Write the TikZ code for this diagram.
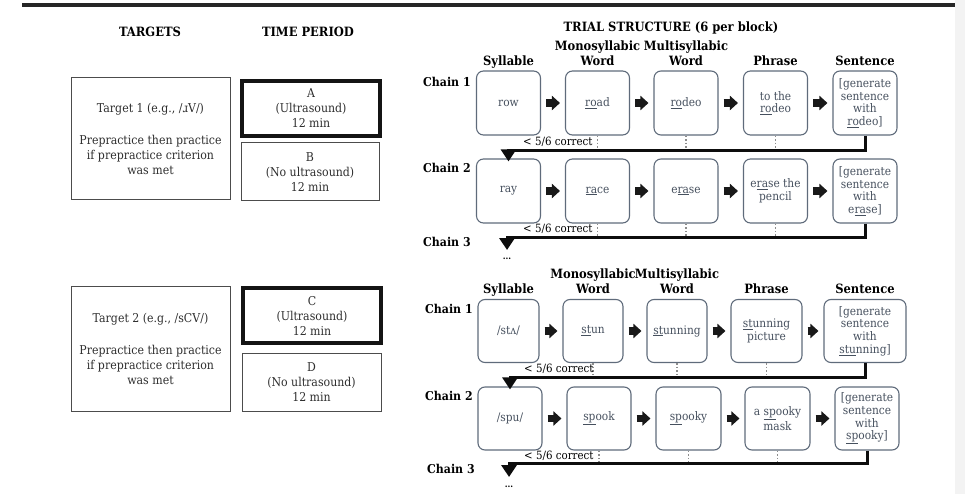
\documentclass[tikz,border=0pt]{standalone}
\usepackage{fontspec}
\setmainfont{DejaVu Serif}[FakeStretch=0.9]
\usetikzlibrary{positioning,calc,arrows.meta}

\definecolor{boxline}{HTML}{5F6B7B}
\definecolor{boxtext}{HTML}{46505E}
\definecolor{inktext}{HTML}{2E2E2E}
\definecolor{sidebg}{HTML}{F3F3F3}
\newcommand{\ulpart}[1]{\underline{#1}}

\tikzset{
  chainbox/.style={draw=boxline, line width=1.1pt, rounded corners=7pt,
    text=boxtext, align=center, minimum width=64pt, minimum height=64pt,
    inner sep=1pt, font=\fontsize{11.8}{12.7}\selectfont},
  targetbox/.style={draw=black!70, line width=1pt, text=inktext, align=center,
    inner sep=2pt, font=\fontsize{12.2}{15}\selectfont},
  thickbox/.style={targetbox, draw=black!92, line width=4.5pt},
  hdr/.style={font=\fontsize{12.8}{15}\selectfont\bfseries, align=center,
    inner sep=0pt, text depth=0pt},
  chainlbl/.style={font=\fontsize{12.2}{15}\selectfont\bfseries, anchor=west, inner sep=0pt},
  fbnote/.style={font=\fontsize{11.4}{15}\selectfont, anchor=base west, inner sep=0pt},
  dotsnote/.style={font=\fontsize{9}{9}\selectfont\bfseries, inner sep=0pt},
  steparrow/.style={draw=black!90, line width=7.5pt,
    -{Triangle[length=8pt,width=14pt]}, shorten <=5pt, shorten >=5pt},
  fbline/.style={draw=black!95, line width=3pt,
    -{Triangle[length=12pt,width=15pt]}, shorten >=-3pt},
  dotlink/.style={draw=black!45, line width=1.4pt, dash pattern=on 1.6pt off 2pt},
}

\begin{document}
\begin{tikzpicture}[x=1pt, y=-1pt]
  \useasboundingbox (0,0) rectangle (965,494);
  \fill[sidebg] (955,0) rectangle (965,494);
  \draw[line width=4pt, draw=black!85] (22,5) -- (955,5);

  % column titles
  \node[hdr] (tgthead) at (150,32) {TARGETS};
  \node[hdr] (perhead) at (308,32) {TIME PERIOD};
  \node[hdr] (trialhead) at (671,27) {TRIAL STRUCTURE (6 per block)};

  % targets and time periods
  \node[targetbox, minimum width=159pt, minimum height=122pt] (t1) at (150.5,139)
    {Target 1 (e.g., /ɹV/)\\[17pt]Prepractice then practice\\if prepractice criterion\\was met};
  \node[thickbox, minimum width=138pt, minimum height=55pt] (pa) at (311,108.5)
    {A\\(Ultrasound)\\12 min};
  \node[targetbox, minimum width=138pt, minimum height=58pt] (pb) at (310,172)
    {B\\(No ultrasound)\\12 min};

  \node[targetbox, minimum width=159pt, minimum height=125pt] (t2) at (150.5,348.5)
    {Target 2 (e.g., /sCV/)\\[17pt]Prepractice then practice\\if prepractice criterion\\was met};
  \node[thickbox, minimum width=138pt, minimum height=55pt] (pc) at (312,315.5)
    {C\\(Ultrasound)\\12 min};
  \node[targetbox, minimum width=139pt, minimum height=58pt] (pd) at (311.5,382)
    {D\\(No ultrasound)\\12 min};

  % block 1, chain 1
  \node[chainbox] (c1s) at (508.5,103) {row};
  \node[chainbox] (c1m) at (597.5,103) {\ulpart{ro}ad};
  \node[chainbox] (c1p) at (686,103) {\ulpart{ro}deo};
  \node[chainbox] (c1ph) at (775.5,103) {to the\\\ulpart{ro}deo};
  \node[chainbox] (c1se) at (865,103) {[generate\\sentence\\with\\\ulpart{ro}deo]};

  \node[hdr, above=5pt of c1s] (h1s) {Syllable};
  \node[hdr, above=5pt of c1m] (h1m) {Monosyllabic\\Word};
  \node[hdr, above=5pt of c1p] (h1p) {Multisyllabic\\Word};
  \node[hdr, above=5pt of c1ph] (h1ph) {Phrase};
  \node[hdr, above=5pt of c1se] (h1se) {Sentence};

  % block 1, chain 2
  \node[chainbox] (c2s) at (508.5,191) {ray};
  \node[chainbox] (c2m) at (597.5,191) {\ulpart{ra}ce};
  \node[chainbox] (c2p) at (686,191) {e\ulpart{ra}se};
  \node[chainbox] (c2ph) at (775.5,191) {e\ulpart{ra}se the\\pencil};
  \node[chainbox] (c2se) at (865,191) {[generate\\sentence\\with\\e\ulpart{ra}se]};

  \node[chainlbl] (c1lab) at (423,82) {Chain 1};
  \node[chainlbl] (c2lab) at (423,168) {Chain 2};
  \node[chainlbl] (c3lab) at (423,242) {Chain 3};

  % block 2, chain 1
  \node[chainbox, minimum width=61pt, minimum height=63pt] (d1s) at (508.5,331) {/stʌ/};
  \node[chainbox, minimum width=60pt, minimum height=63pt] (d1m) at (593,331) {\ulpart{st}un};
  \node[chainbox, minimum width=60pt, minimum height=63pt] (d1p) at (677,331) {\ulpart{st}unning};
  \node[chainbox, minimum width=71pt, minimum height=63pt] (d1ph) at (766.5,331) {\ulpart{st}unning\\picture};
  \node[chainbox, minimum width=82pt, minimum height=63pt] (d1se) at (865,331) {[generate\\sentence\\with\\\ulpart{stu}nning]};

  \node[hdr, above=5pt of d1s] (h2s) {Syllable};
  \node[hdr, above=5pt of d1m] (h2m) {Monosyllabic\\Word};
  \node[hdr, above=5pt of d1p] (h2p) {Multisyllabic\\Word};
  \node[hdr, above=5pt of d1ph] (h2ph) {Phrase};
  \node[hdr, above=5pt of d1se] (h2se) {Sentence};

  % block 2, chain 2
  \node[chainbox, minimum height=63pt] (d2s) at (510,418.5) {/spu/};
  \node[chainbox, minimum height=63pt] (d2m) at (599,418.5) {\ulpart{sp}ook};
  \node[chainbox, minimum width=65pt, minimum height=63pt] (d2p) at (688.5,418.5) {\ulpart{sp}ooky};
  \node[chainbox, minimum width=65pt, minimum height=63pt] (d2ph) at (777.5,418.5) {a \ulpart{sp}ooky\\mask};
  \node[chainbox, minimum height=63pt] (d2se) at (867,418.5) {[generate\\sentence\\with\\\ulpart{sp}ooky]};

  \node[chainlbl] (d1lab) at (425,309) {Chain 1};
  \node[chainlbl] (d2lab) at (425,396) {Chain 2};
  \node[chainlbl] (d3lab) at (427,469) {Chain 3};

  % steps within a chain
  \foreach \a/\b in {c1s/c1m, c1m/c1p, c1p/c1ph, c1ph/c1se,
                     c2s/c2m, c2m/c2p, c2p/c2ph, c2ph/c2se,
                     d1s/d1m, d1m/d1p, d1p/d1ph, d1ph/d1se,
                     d2s/d2m, d2m/d2p, d2p/d2ph, d2ph/d2se}
    \draw[steparrow] (\a) -- (\b);

  % fall back to the next chain
  \coordinate (c1fb) at ($(c1se.south)+(0,14.5)$);
  \coordinate (c2fb) at ($(c2se.south)+(0,14)$);
  \coordinate (d1fb) at ($(d1se.south)+(0,14)$);
  \coordinate (d2fb) at ($(d2se.south)+(0,13)$);
  \coordinate (c3top) at (507,250);
  \coordinate (d3top) at (509,477);

  \foreach \n in {c1m, c1p, c1ph} \draw[dotlink] (\n.south) -- (\n.south |- c1fb);
  \foreach \n in {c2m, c2p, c2ph} \draw[dotlink] (\n.south) -- (\n.south |- c2fb);
  \foreach \n in {d1m, d1p, d1ph} \draw[dotlink] (\n.south) -- (\n.south |- d1fb);
  \foreach \n in {d2m, d2p, d2ph} \draw[dotlink] (\n.south) -- (\n.south |- d2fb);

  \draw[fbline] (c1se.south) -- (c1fb) -| (c2s.north);
  \draw[fbline, shorten >=0pt] (c2se.south) -- (c2fb) -| (c3top);
  \draw[fbline] (d1se.south) -- (d1fb) -| (d2s.north);
  \draw[fbline, shorten >=0pt] (d2se.south) -- (d2fb) -| (d3top);

  \node[fbnote] (c1note) at (523,146) {< 5/6 correct};
  \node[fbnote] (c2note) at (523,233) {< 5/6 correct};
  \node[fbnote] (d1note) at (524,372) {< 5/6 correct};
  \node[fbnote] (d2note) at (524,459) {< 5/6 correct};

  \node[dotsnote] (c3more) at (507,259) {...};
  \node[dotsnote] (d3more) at (509,487) {...};
\end{tikzpicture}
\end{document}
